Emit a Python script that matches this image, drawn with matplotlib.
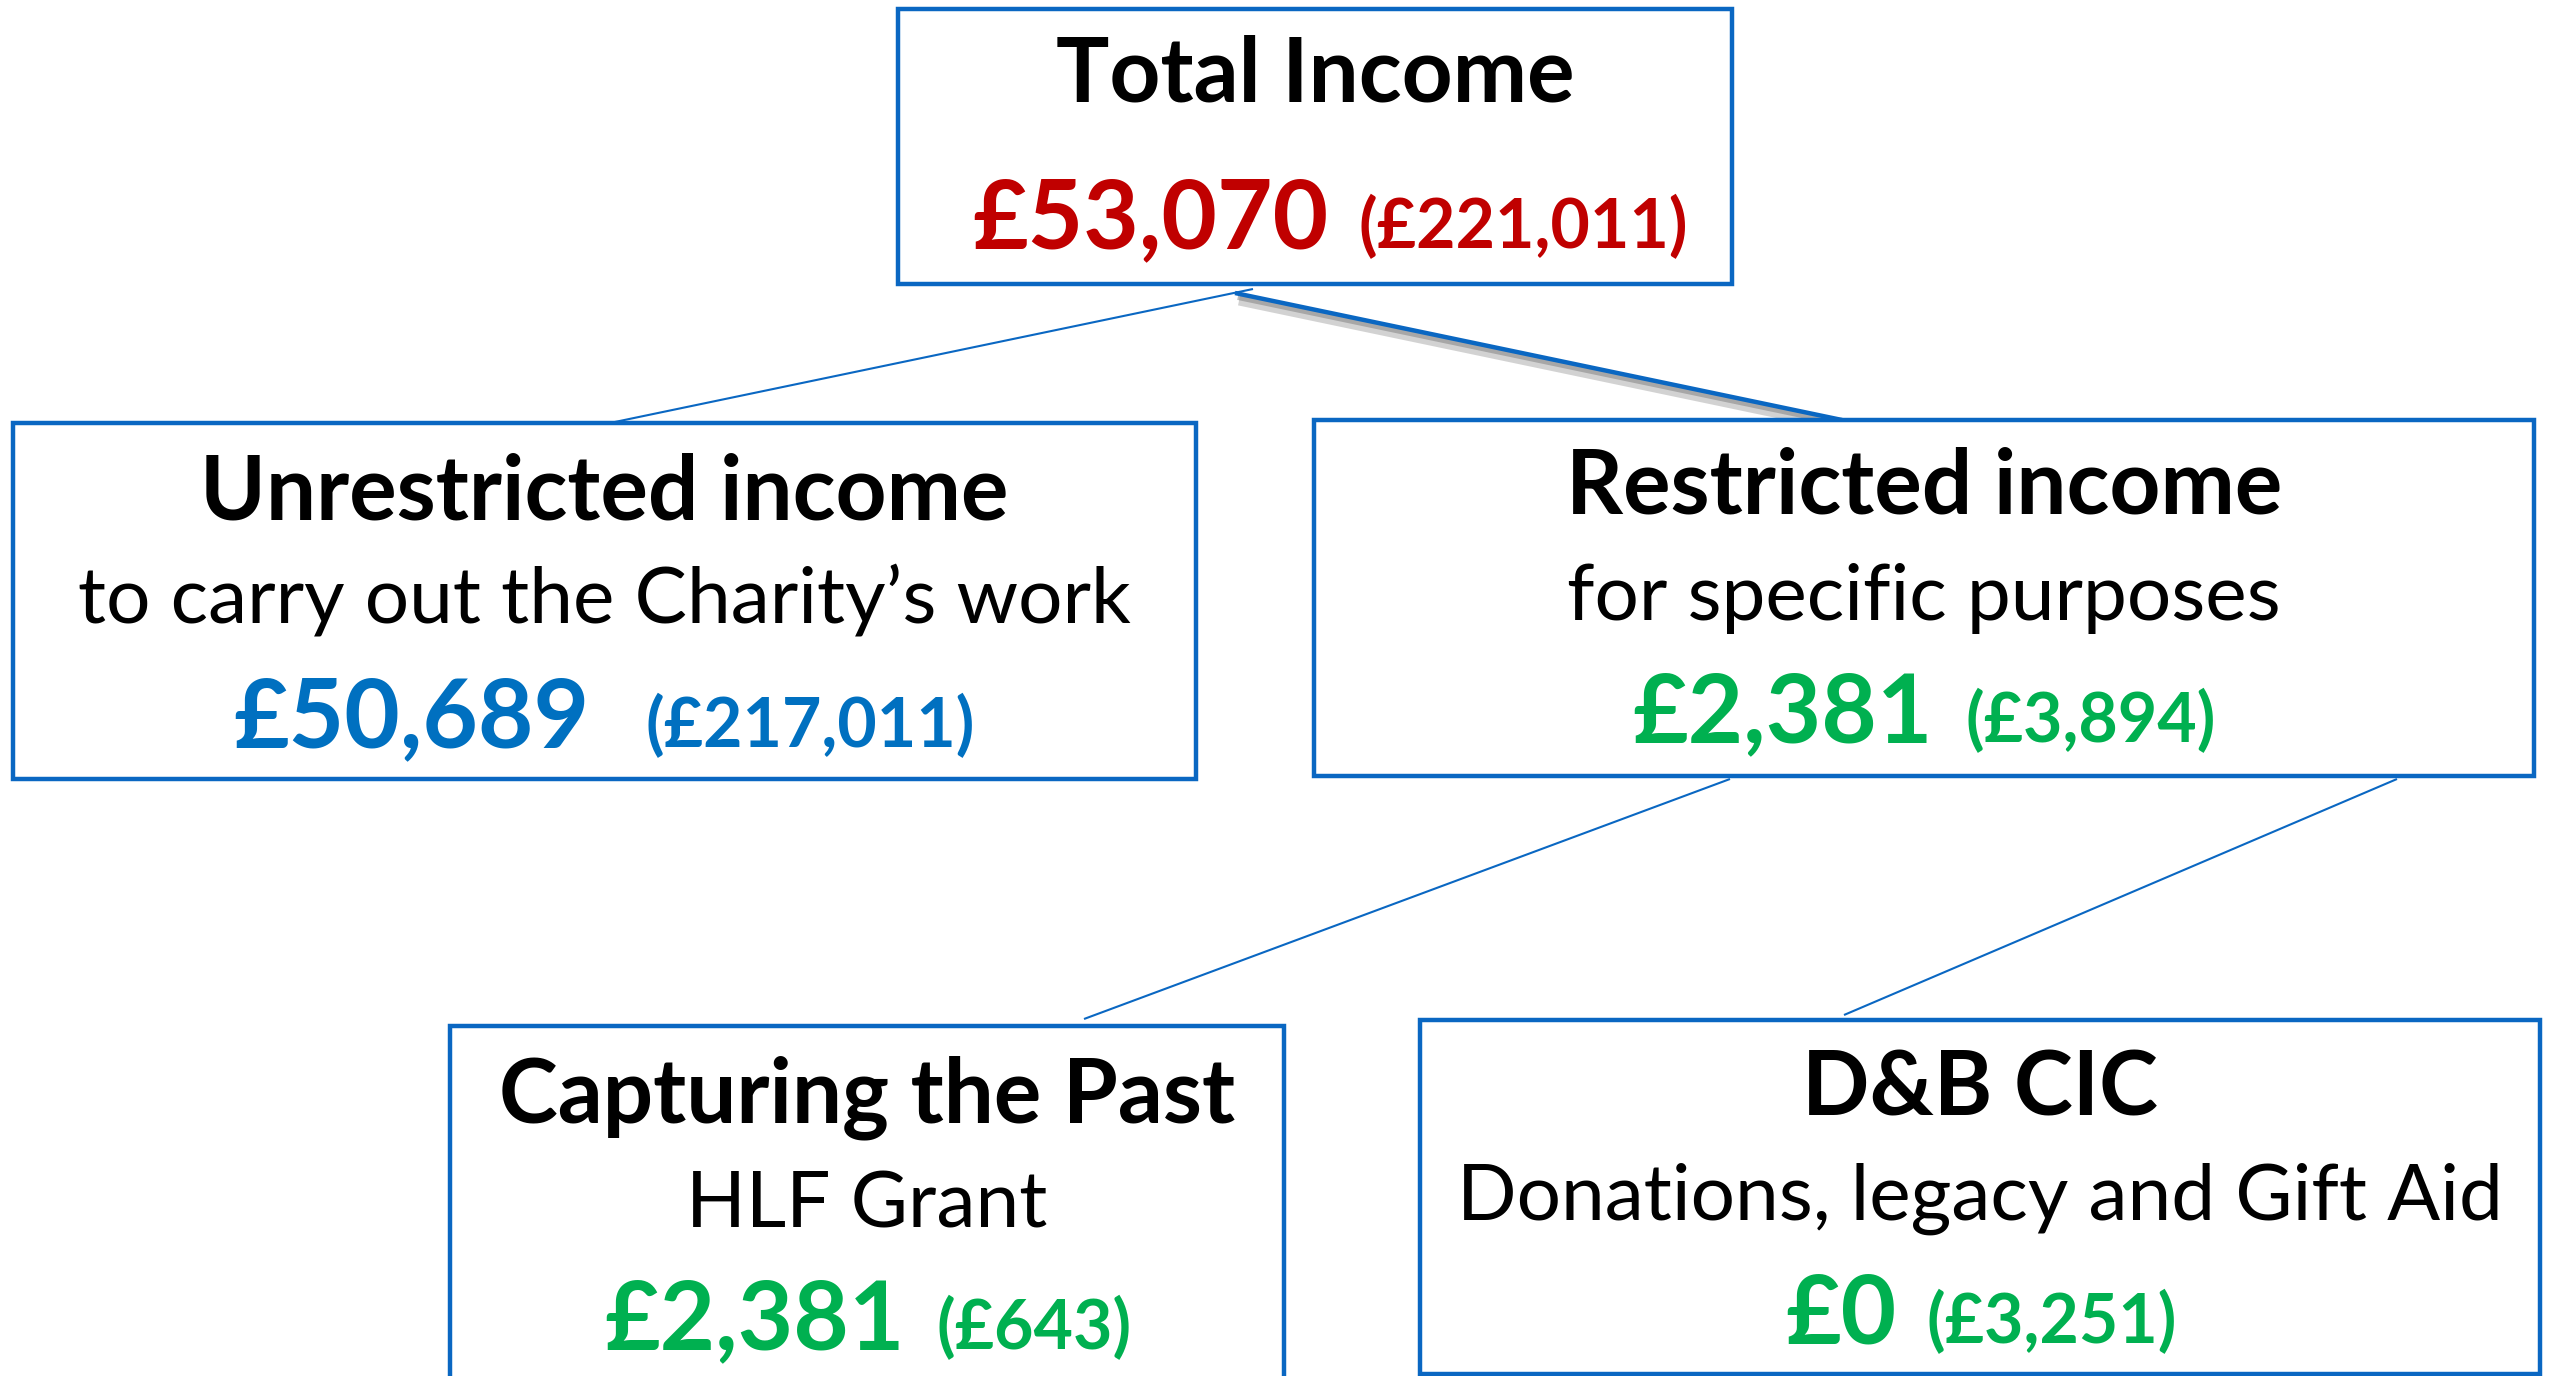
import matplotlib.pyplot as plt
import matplotlib.patheffects as pe
from matplotlib.patches import Rectangle

plt.rcParams["font.family"] = ["Lato", "DejaVu Sans"]

# data
titles = ["Total Income", "Unrestricted income", "Restricted income",
          "Capturing the Past", "D&B CIC"]
subtitles = ["", "to carry out the Charity\u2019s work", "for specific purposes",
             "HLF Grant", "Donations, legacy and Gift Aid"]
current_values = [53070, 50689, 2381, 2381, 0]
prior_values = [221011, 217011, 3894, 643, 3251]
edges = [(0, 1), (0, 2), (2, 3), (2, 4)]

# layout (pixel coords, y down)
boxes = [(898, 9, 1732, 284), (13, 423, 1196, 779), (1314, 420, 2534, 776),
         (450, 1026, 1284, 1420), (1420, 1020, 2540, 1374)]
title_y = [102, 519, 513, 1122, 1116]
sub_y = [None, 623, 620, 1227, 1220]
value_y = [248, 747, 742, 1349, 1343]
value_cx = [1330, 604, 1924, 868, 1981]
value_gap = [30, 56, 32, 31, 30]
value_colors = ["#C00000", "#0070C0", "#00B050", "#00B050", "#00B050"]
edge_pts = [((1253, 289), (610, 423)), ((1235, 293), (1842, 420)),
            ((1730, 779), (1084, 1019)), ((2397, 779), (1844, 1015))]
edge_width = [1.5, 3.2, 1.5, 1.5]
BLUE = "#0A67C2"

fig = plt.figure(figsize=(25.5, 13.76), dpi=100)
ax = fig.add_axes([0, 0, 1, 1])
ax.set_xlim(0, 2550)
ax.set_ylim(1376, 0)
ax.axis("off")

for i, (a, b) in enumerate(edges):
    (x0, y0), (x1, y1) = edge_pts[i]
    effects = None
    if edge_width[i] > 2:
        effects = [pe.SimpleLineShadow(offset=(3, -5), shadow_color="0.5", alpha=0.35, linewidth=8),
                   pe.SimpleLineShadow(offset=(2, -3), shadow_color="0.45", alpha=0.45, linewidth=4),
                   pe.Normal()]
    ax.plot([x0, x1], [y0, y1], color=BLUE, lw=edge_width[i], solid_capstyle="butt",
            path_effects=effects, zorder=2)

for i, (x0, y0, x1, y1) in enumerate(boxes):
    ax.add_patch(Rectangle((x0, y0), x1 - x0, y1 - y0, facecolor="white",
                           edgecolor=BLUE, lw=3.2, zorder=3))
    cx = (x0 + x1) / 2
    ax.text(cx, title_y[i], titles[i], ha="center", va="baseline",
            fontsize=64, fontweight="bold", color="black", zorder=4)
    if subtitles[i]:
        ax.text(cx, sub_y[i], subtitles[i], ha="center", va="baseline",
                fontsize=56.5, color="black", zorder=4)

renderer = fig.canvas.get_renderer()
for i in range(len(titles)):
    t1 = ax.text(0, value_y[i], f"\u00a3{current_values[i]:,}", ha="left", va="baseline",
                 fontsize=69, fontweight="bold", color=value_colors[i], zorder=4)
    t2 = ax.text(0, value_y[i], f"(\u00a3{prior_values[i]:,})", ha="left", va="baseline",
                 fontsize=49, fontweight="bold", color=value_colors[i], zorder=4)
    w1 = t1.get_window_extent(renderer).width
    w2 = t2.get_window_extent(renderer).width
    total = w1 + value_gap[i] + w2
    left = value_cx[i] - total / 2
    t1.set_x(left)
    t2.set_x(left + w1 + value_gap[i])

fig.savefig("out.png", dpi=100, facecolor="white")
